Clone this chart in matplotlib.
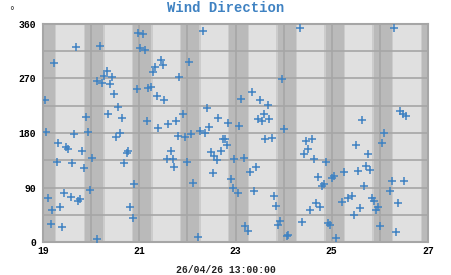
import matplotlib.pyplot as plt
import numpy as np

# hours since 19 Apr 00:00, and wind direction in degrees
hours = np.array([
    1.0, 1.5, 2.5, 4.0, 4.5, 5.5, 7.0, 7.5, 8.5, 9.5, 10.5, 11.5, 12.5, 14.0,
    14.5, 15.5, 16.5, 17.5, 18.5, 19.5, 20.5, 21.5, 22.5, 23.5, 24.5, 27.0,
    27.0, 28.5, 29.5, 30.5, 32.0, 32.5, 33.5, 34.5, 35.5, 36.5, 37.5, 38.5,
    39.5, 40.5, 42.0, 42.5, 43.5, 45.0, 45.5, 47.0, 47.5, 48.5, 50.0, 51.0,
    52.0, 52.5, 54.0, 55.0, 56.0, 57.0, 57.5, 59.0, 60.0, 60.5, 62.0, 62.5,
    64.0, 65.0, 65.5, 66.5, 67.5, 68.0, 70.0, 71.0, 72.0, 73.0, 74.0, 75.0,
    77.5, 78.5, 80.0, 81.0, 82.0, 83.0, 84.0, 85.0, 85.5, 87.0, 87.5, 89.0,
    90.0, 91.0, 92.0, 92.5, 94.0, 95.0, 95.5, 97.0, 97.5, 98.5, 100.0, 100.5,
    102.0, 103.0, 104.0, 105.0, 106.0, 107.0, 108.0, 109.0, 110.0, 110.5,
    112.0, 112.5, 114.0, 115.0, 116.0, 117.0, 118.0, 119.0, 120.0, 121.5,
    122.0, 128.0, 129.0, 130.0, 131.0, 132.0, 133.0, 134.0, 135.0, 136.0,
    137.0, 138.0, 139.0, 140.0, 141.0, 142.0, 143.0, 144.0, 145.0, 146.0,
    149.0, 150.0, 152.0, 154.0, 155.0, 156.0, 157.0, 158.0, 159.0, 160.0,
    161.0, 162.0, 163.0, 164.0, 165.0, 166.0, 167.0, 168.0, 169.0, 170.0,
    173.0, 174.0, 175.0, 176.0, 177.0, 178.0, 179.5, 180.0, 181.0])
direction = np.array([
    234, 182, 73, 30, 53, 296, 132, 163, 58, 25, 81, 157, 154, 74,
    130, 178, 322, 68, 71, 150, 122, 206, 182, 86, 139, 266,
    5, 324, 262, 274, 282, 211, 261, 272, 244, 173, 223, 180,
    205, 130, 147, 150, 58, 40, 96, 253, 345, 320, 343, 317,
    200, 254, 256, 281, 289, 241, 188, 300, 292, 234, 137, 195,
    150, 137, 124, 200, 175, 272, 211, 173, 132, 297, 178, 97,
    8, 183, 348, 180, 221, 190, 149, 114, 142, 135, 205, 150,
    170, 170, 160, 196, 104, 89, 137, 81, 191, 236, 139, 26,
    18, 116, 248, 84, 124, 203, 234, 200, 211, 170,
    226, 203, 172, 76, 59, 28, 35, 269, 187, 10,
    11, 353, 33, 145, 167, 154, 53, 170, 137, 64,
    107, 58, 92, 96, 132, 31, 28, 106, 109, 7,
    66, 116, 73, 76, 45, 160, 117, 56, 201, 92,
    125, 145, 119, 73, 68, 53, 58, 26, 163, 180,
    84, 101, 353, 17, 64, 216, 211, 101, 208])

days = 19 + hours / 24.0
x_ticks = [19, 21, 23, 25, 27]
y_ticks = [0, 90, 180, 270, 360]
title = 'Wind Direction'
stamp = '26/04/26 13:00:00'

mono = 'Liberation Mono'
blue = '#3f82c2'

fig = plt.figure(figsize=(4.51, 2.75), dpi=100)
ax = fig.add_axes([43 / 451, 33 / 275, 385 / 451, 218 / 275])
ax.set_facecolor('#e0e0e0')

# night shading with a short twilight step on each side
for d in range(19, 28):
    ax.axvspan(d - 3.7 / 24, d + 6.7 / 24, color='#cccccc', lw=0, zorder=0)
    ax.axvspan(d - 3.0 / 24, d + 6.0 / 24, color='#bababa', lw=0, zorder=0)

ax.plot(days, direction, ls='none', marker='+', ms=6, mew=1.1, color=blue, zorder=3)

ax.set_xlim(19, 27)
ax.set_ylim(0, 360)
ax.set_xticks(x_ticks)
ax.set_xticks(np.arange(19, 28), minor=True)
ax.set_yticks(y_ticks)
ax.set_yticks(np.arange(0, 361, 45), minor=True)
ax.grid(which='both', color='#a6a6a6', lw=1.2, zorder=1)
ax.set_axisbelow(True)
ax.tick_params(which='both', length=0)
ax.tick_params(axis='x', pad=3)
ax.tick_params(axis='y', pad=5)
for lab in ax.get_xticklabels() + ax.get_yticklabels():
    lab.set_fontfamily(mono)
    lab.set_fontweight('bold')
    lab.set_fontsize(7)
for s in ax.spines.values():
    s.set_color('#a6a6a6')
    s.set_linewidth(1.5)

fig.text(0.5, 1 - 8 / 275, title, ha='center', va='center', color=blue,
         fontfamily=mono, fontweight='bold', fontsize=10)
fig.text(0.5, 1 - 270 / 275, stamp, ha='center', va='center', color='#222222',
         fontfamily=mono, fontweight='bold', fontsize=7)
fig.text(12 / 451, 1 - 11 / 275, '°', ha='center', va='center', color='#333333',
         fontsize=7)

fig.savefig('out.png', dpi=100)
